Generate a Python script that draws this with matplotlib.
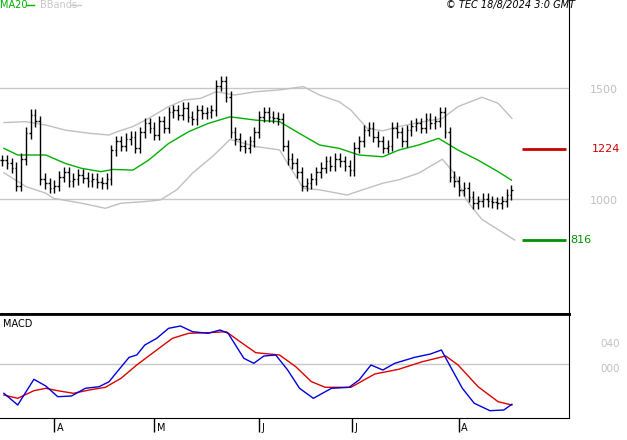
import numpy as np
import matplotlib
matplotlib.use("Agg")
import matplotlib.pyplot as plt

# daily closes (bar index 0..107)
close = [1175, 1160, 1140, 1060, 1180, 1297, 1380, 1350, 1090, 1070,
         1050, 1060, 1100, 1120, 1080, 1090, 1110, 1095, 1080, 1090,
         1075, 1070, 1090, 1220, 1260, 1240, 1270, 1280, 1230, 1300,
         1340, 1320, 1290, 1350, 1320, 1390, 1400, 1380, 1410, 1370,
         1360, 1400, 1385, 1390, 1400, 1510, 1530, 1460, 1300, 1270,
         1240, 1230, 1260, 1300, 1370, 1390, 1370, 1365, 1360, 1240,
         1180, 1160, 1120, 1060, 1070, 1090, 1120, 1140, 1170, 1150,
         1180, 1170, 1150, 1130, 1230, 1260, 1310, 1320, 1280, 1260,
         1230, 1240, 1320, 1300, 1260, 1310, 1330, 1340, 1320, 1360,
         1340, 1350, 1390, 1300, 1100, 1080, 1040, 1050, 1010, 980,
         990, 1000, 990, 985, 980, 990, 1020, 1040]
WICK = 25

ma_x = [0.4, 3.3, 9.2, 13.3, 16.7, 20.8, 23.3, 27.5, 30.8, 35, 39.2, 43.3, 47.9, 53.3,
        58.3, 62.5, 66.7, 70.8, 75, 80, 83.3, 87.5, 91.7, 95.8, 100, 104.2, 107]
ma_y = [1228, 1198, 1198, 1160, 1138, 1123, 1133, 1130, 1175, 1250, 1303, 1340, 1370, 1355,
        1348, 1295, 1243, 1228, 1198, 1190, 1220, 1243, 1273, 1220, 1175, 1123, 1085]

up_x = [0.4, 5, 9.2, 13.3, 18.3, 22.5, 24.2, 27.5, 30.8, 35, 38.3, 41.7, 45, 48.8, 53.3,
        58.3, 63.3, 66.7, 70.8, 73.3, 76.7, 80, 83.3, 87.5, 92.5, 95.8, 100.8, 104.2, 107.1]
up_y = [1344, 1348, 1333, 1310, 1296, 1288, 1303, 1326, 1363, 1416, 1446, 1453, 1483, 1468, 1483,
        1491, 1506, 1468, 1438, 1400, 1318, 1307, 1326, 1344, 1363, 1416, 1458, 1431, 1363]

lo_x = [0.4, 5, 9.2, 10.8, 16.7, 21.7, 25, 30, 33.3, 36.7, 40, 44.2, 47.9, 53.3,
        58.3, 60, 63.3, 66.7, 72.5, 76.7, 80, 83.3, 87.5, 92.5, 95, 97.5, 100.8, 107.7]
lo_y = [1118, 1056, 1026, 1003, 981, 958, 981, 988, 996, 1041, 1116, 1191, 1268, 1236,
        1221, 1161, 1048, 1041, 1018, 1048, 1071, 1086, 1116, 1179, 1116, 996, 908, 815]

macd_x = [0.4, 3.3, 6.7, 9.2, 11.7, 14.6, 17.5, 20.4, 22.5, 24.2, 26.7, 28.3, 30, 32.5,
          35, 37.5, 40, 43.3, 45.8, 47.5, 50.8, 52.9, 55, 57.5, 60, 62.5, 65.4, 69.2,
          72.9, 75, 77.5, 80, 82.5, 86.7, 90, 92.3, 94.2, 96.7, 99.2, 102.5, 105.4, 107.1]
macd_y = [-0.469, -0.656, -0.245, -0.352, -0.523, -0.512, -0.389, -0.363, -0.283, -0.123,
          0.107, 0.144, 0.304, 0.411, 0.571, 0.608, 0.517, 0.491, 0.544, 0.491, 0.091,
          0.011, 0.128, 0.144, -0.096, -0.389, -0.549, -0.389, -0.373, -0.256, -0.016,
          -0.096, 0.011, 0.107, 0.160, 0.224, -0.043, -0.389, -0.629, -0.747, -0.736, -0.645]
sig_x = [0.4, 3.3, 6.7, 9.2, 11.7, 15, 18.3, 21.7, 25, 28.3, 32.5, 35.8, 39.2, 43.3, 47.1,
         50, 53.3, 58.3, 61.7, 65, 67.9, 73.3, 78.3, 83.3, 88.3, 93.2, 95.8, 100, 104.2, 107.1]
sig_y = [-0.496, -0.549, -0.427, -0.389, -0.427, -0.469, -0.416, -0.373, -0.229, -0.016,
         0.224, 0.411, 0.491, 0.501, 0.517, 0.357, 0.181, 0.144, -0.043, -0.283, -0.373,
         -0.373, -0.160, -0.085, 0.037, 0.128, -0.016, -0.363, -0.603, -0.656]

month_pos = [11, 32, 54, 73.5, 96]
month_lbl = ["A", "M", "J", "J", "A"]
resist, support = 1224, 816

W, H = 627, 440
fig = plt.figure(figsize=(W / 100, H / 100), dpi=100)
xl = (-0.42, 119.1)
ax = fig.add_axes([0, (H - 314) / H, 569 / W, 314 / H])
ax2 = fig.add_axes([0, (H - 418) / H, 569 / W, 104 / H])

# price panel
ax.set_xlim(*xl)
ax.set_ylim(482, 1896)
for v in (1000, 1500):
    ax.axhline(v, color="#c8c8c8", lw=1)
    ax.text(590 / 569, v - 10, f"{v:.0f}", transform=ax.get_yaxis_transform(),
            color="#c0c0c0", fontsize=8, va="center")
ax.plot(up_x, up_y, color="#c0c0c0", lw=1)
ax.plot(lo_x, lo_y, color="#c0c0c0", lw=1)
ax.plot(ma_x, ma_y, color="#00b000", lw=1)
for i, c in enumerate(close):
    o = close[i - 1] if i > 0 else c
    ax.vlines(i, min(o, c) - WICK, max(o, c) + WICK, color="black", lw=1)
    ax.hlines(o, i - 0.35, i, color="black", lw=1)
    ax.hlines(c, i, i + 0.35, color="black", lw=1)
ax.hlines(resist, 109.3, 118.5, color="#cc0000", lw=2)
ax.hlines(support, 109.3, 118.5, color="#009000", lw=2)
ax.text(592 / 569, resist, str(resist), transform=ax.get_yaxis_transform(),
        color="#cc0000", fontsize=8, va="center")
ax.text(570 / 569, support, str(support), transform=ax.get_yaxis_transform(),
        color="#009000", fontsize=8, va="center")
ax.set_xticks([]); ax.set_yticks([])
for s in ("top", "left"):
    ax.spines[s].set_visible(False)
ax.spines["bottom"].set_linewidth(2)

# legend / header
fig.text(0, 1 - 5 / H, "MA20", color="#00b000", fontsize=7, va="center")
fig.add_artist(plt.Line2D([26 / W, 34 / W], [1 - 5 / H] * 2, color="#00b000", lw=1))
fig.text(40 / W, 1 - 5 / H, "BBands", color="#c8c8c8", fontsize=7, va="center")
fig.add_artist(plt.Line2D([71 / W, 81 / W], [1 - 5 / H] * 2, color="#c8c8c8", lw=1))
fig.text(575 / W, 1 - 5 / H, "© TEC 18/8/2024 3:0 GMT", fontsize=7, style="italic",
         ha="right", va="center")

# MACD panel
ax2.set_xlim(*xl)
ax2.set_ylim(-0.864, 0.8)
ax2.axhline(0, color="#c8c8c8", lw=1)
ax2.plot(sig_x, sig_y, color="#dd0000", lw=1)
ax2.plot(macd_x, macd_y, color="#0000dd", lw=1)
ax2.text(3 / 569, 0.9, "MACD", transform=ax2.transAxes, fontsize=7, va="center")
for v, lbl in ((0.4, "040"), (0.0, "000")):
    ax2.text(600 / 569, v - 0.08, lbl, transform=ax2.get_yaxis_transform(),
             color="#c0c0c0", fontsize=7.5, va="center")
ax2.set_yticks([])
ax2.set_xticks(month_pos)
ax2.set_xticklabels([])
ax2.tick_params(axis="x", direction="out", length=10, width=1)
for p, l in zip(month_pos, month_lbl):
    ax2.text(p + 0.5, -0.05, l, transform=ax2.get_xaxis_transform(), fontsize=7, va="top")
ax2.spines["left"].set_visible(False)
ax2.spines["top"].set_linewidth(2)

fig.savefig("out.png", dpi=100)
